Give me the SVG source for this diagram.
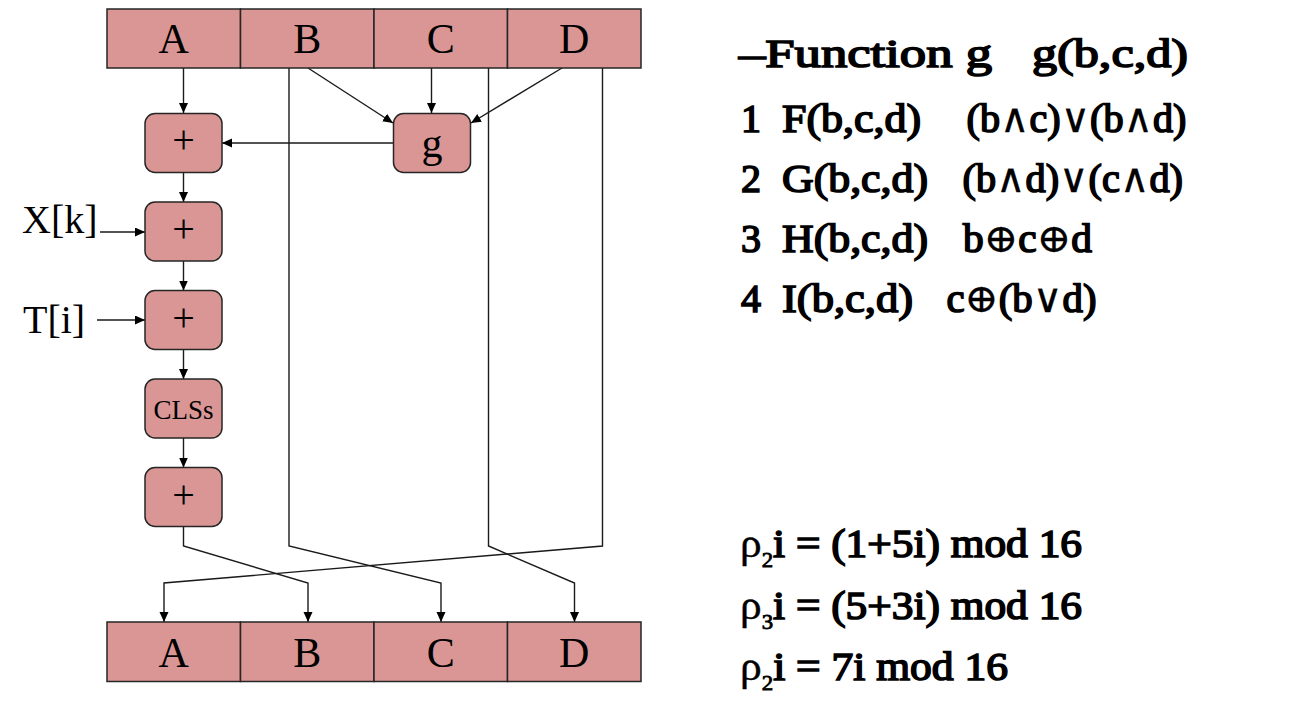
<svg xmlns="http://www.w3.org/2000/svg" width="1289" height="701" viewBox="0 0 1289 701">
<style>
.cell{fill:#D99694;stroke:#262626;stroke-width:1.5}
.box{fill:#D99694;stroke:#262626;stroke-width:1.5}
.lbl{font-family:"Liberation Serif","Times New Roman",serif;fill:#000;text-anchor:middle}
.side{font-family:"Liberation Serif","Times New Roman",serif;fill:#000;font-size:40px}
.bold{font-family:"Liberation Serif","Times New Roman",serif;fill:#000;stroke:#000;stroke-width:1.6;font-size:40px}
.sym{font-family:"DejaVu Serif","Liberation Serif",serif;stroke-width:0.3}
.thin{stroke-width:0.4}
.conn{fill:none;stroke:#1a1a1a;stroke-width:1.4}
</style>
<defs>
<marker id="arr" markerUnits="userSpaceOnUse" markerWidth="11" markerHeight="10" refX="10" refY="4.5" orient="auto">
<path d="M0,0 L10,4.5 L0,9 z" fill="#000"/>
</marker>
</defs>
<rect width="1289" height="701" fill="#fff"/>

<g id="connectors">
<line class="conn" x1="183.5" y1="68" x2="183.5" y2="113" marker-end="url(#arr)"/>
<line class="conn" x1="308" y1="68" x2="393" y2="123" marker-end="url(#arr)"/>
<line class="conn" x1="431.5" y1="68" x2="431.5" y2="113" marker-end="url(#arr)"/>
<line class="conn" x1="562" y1="68" x2="471" y2="123" marker-end="url(#arr)"/>
<line class="conn" x1="393" y1="143" x2="222" y2="143" marker-end="url(#arr)"/>
<line class="conn" x1="183.5" y1="172" x2="183.5" y2="202" marker-end="url(#arr)"/>
<line class="conn" x1="100" y1="232" x2="145" y2="232" marker-end="url(#arr)"/>
<line class="conn" x1="183.5" y1="261" x2="183.5" y2="290.5" marker-end="url(#arr)"/>
<line class="conn" x1="97" y1="320" x2="145" y2="320" marker-end="url(#arr)"/>
<line class="conn" x1="183.5" y1="349.5" x2="183.5" y2="379" marker-end="url(#arr)"/>
<line class="conn" x1="183.5" y1="438" x2="183.5" y2="467.5" marker-end="url(#arr)"/>
<polyline class="conn" points="183.5,526.5 183.5,546 308,583 308,622" marker-end="url(#arr)"/>
<polyline class="conn" points="289,68 289,546 441,583 441,622" marker-end="url(#arr)"/>
<polyline class="conn" points="488.5,68 488.5,546 574.5,583 574.5,622" marker-end="url(#arr)"/>
<polyline class="conn" points="602.5,68 602.5,546 164,583 164,622" marker-end="url(#arr)"/>
</g>

<g id="top-A"><rect class="cell" x="107" y="9" width="133.5" height="59"/><text class="lbl" x="173.75" y="53" font-size="42">A</text></g>
<g id="top-B"><rect class="cell" x="240.5" y="9" width="133.5" height="59"/><text class="lbl" x="307.25" y="53" font-size="42">B</text></g>
<g id="top-C"><rect class="cell" x="374" y="9" width="133.5" height="59"/><text class="lbl" x="440.75" y="53" font-size="42">C</text></g>
<g id="top-D"><rect class="cell" x="507.5" y="9" width="133.5" height="59"/><text class="lbl" x="574.25" y="53" font-size="42">D</text></g>

<g id="bot-A"><rect class="cell" x="107" y="622" width="133.5" height="59.5"/><text class="lbl" x="173.75" y="667" font-size="42">A</text></g>
<g id="bot-B"><rect class="cell" x="240.5" y="622" width="133.5" height="59.5"/><text class="lbl" x="307.25" y="667" font-size="42">B</text></g>
<g id="bot-C"><rect class="cell" x="374" y="622" width="133.5" height="59.5"/><text class="lbl" x="440.75" y="667" font-size="42">C</text></g>
<g id="bot-D"><rect class="cell" x="507.5" y="622" width="133.5" height="59.5"/><text class="lbl" x="574.25" y="667" font-size="42">D</text></g>

<g id="add1"><rect class="box" x="145" y="113.5" width="77" height="59" rx="10"/><text class="lbl" x="183.5" y="153" font-size="40">+</text></g>
<g id="g"><rect class="box" x="393.5" y="113.5" width="77" height="59" rx="10"/><text class="lbl" x="432" y="156.5" font-size="42">g</text></g>
<g id="add2"><rect class="box" x="145" y="202" width="77" height="59" rx="10"/><text class="lbl" x="183.5" y="242" font-size="40">+</text></g>
<g id="add3"><rect class="box" x="145" y="290.5" width="77" height="59" rx="10"/><text class="lbl" x="183.5" y="330.5" font-size="40">+</text></g>
<g id="cls"><rect class="box" x="145" y="379" width="77" height="59" rx="10"/><text class="lbl" x="183.5" y="419" font-size="27">CLSs</text></g>
<g id="add4"><rect class="box" x="145" y="467.5" width="77" height="59" rx="10"/><text class="lbl" x="183.5" y="507.5" font-size="40">+</text></g>

<g id="inputs">
<text class="side" x="22" y="233">X[k]</text>
<text class="side" x="23" y="333">T[i]</text>
</g>

<g id="functions">
<text class="bold" x="739" y="67" font-size="48" textLength="253" lengthAdjust="spacingAndGlyphs">–Function g</text>
<text class="bold" x="1032" y="67" font-size="48" textLength="156" lengthAdjust="spacingAndGlyphs">g(b,c,d)</text>
<text class="bold" x="741" y="132">1</text>
<text class="bold" x="782" y="132" textLength="139" lengthAdjust="spacingAndGlyphs">F(b,c,d)</text>
<text class="bold" x="966.5" y="132" textLength="220" lengthAdjust="spacingAndGlyphs">(b<tspan class="sym">∧</tspan>c)<tspan class="sym">∨</tspan>(b<tspan class="sym">∧</tspan>d)</text>
<text class="bold" x="741" y="192">2</text>
<text class="bold" x="782" y="192" textLength="146" lengthAdjust="spacingAndGlyphs">G(b,c,d)</text>
<text class="bold" x="962.5" y="192" textLength="220.5" lengthAdjust="spacingAndGlyphs">(b<tspan class="sym">∧</tspan>d)<tspan class="sym">∨</tspan>(c<tspan class="sym">∧</tspan>d)</text>
<text class="bold" x="741" y="252">3</text>
<text class="bold" x="782" y="252" textLength="146" lengthAdjust="spacingAndGlyphs">H(b,c,d)</text>
<text class="bold" x="963" y="252" textLength="129" lengthAdjust="spacingAndGlyphs">b<tspan class="sym">⊕</tspan>c<tspan class="sym">⊕</tspan>d</text>
<text class="bold" x="741" y="312">4</text>
<text class="bold" x="782" y="312" textLength="131" lengthAdjust="spacingAndGlyphs">I(b,c,d)</text>
<text class="bold" x="946.5" y="312" textLength="150" lengthAdjust="spacingAndGlyphs">c<tspan class="sym">⊕</tspan>(b<tspan class="sym">∨</tspan>d)</text>
</g>

<g id="rho">
<text class="bold" x="740" y="557" textLength="342" lengthAdjust="spacingAndGlyphs"><tspan class="thin">ρ</tspan><tspan font-size="21" dy="10" style="stroke-width:0.8">2</tspan><tspan dy="-10">i = (1+5i) mod 16</tspan></text>
<text class="bold" x="740" y="619" textLength="342" lengthAdjust="spacingAndGlyphs"><tspan class="thin">ρ</tspan><tspan font-size="21" dy="10" style="stroke-width:0.8">3</tspan><tspan dy="-10">i = (5+3i) mod 16</tspan></text>
<text class="bold" x="740" y="680" textLength="268" lengthAdjust="spacingAndGlyphs"><tspan class="thin">ρ</tspan><tspan font-size="21" dy="10" style="stroke-width:0.8">2</tspan><tspan dy="-10">i = 7i mod 16</tspan></text>
</g>
</svg>
